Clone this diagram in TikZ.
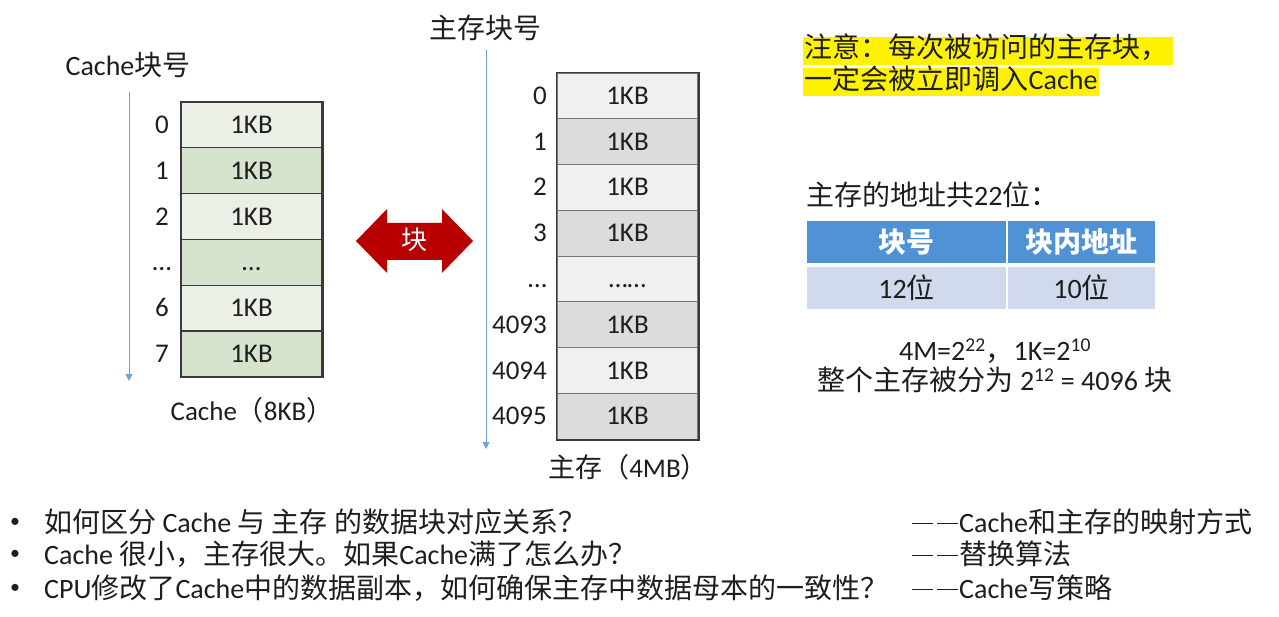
\documentclass[tikz,border=0pt]{standalone}
\usepackage{fontspec}
\setmainfont{Carlito}
\newfontfamily\cjkf{Noto Sans CJK SC}
\newcommand\zh[1]{{\cjkf #1}}
\newcommand\ddash{\rule[8.5pt]{21pt}{1.6pt}\kern4pt\rule[8.5pt]{21pt}{1.6pt}\kern1pt}
\usetikzlibrary{arrows.meta}
\definecolor{txt}{HTML}{1E1E1E}
\definecolor{cachelight}{HTML}{EAF0E6}
\definecolor{cachedark}{HTML}{D6E3CD}
\definecolor{memlight}{HTML}{F0F0F0}
\definecolor{memdark}{HTML}{DCDCDC}
\definecolor{axisblue}{HTML}{6FA3D6}
\definecolor{hdrblue}{HTML}{4F93D6}
\definecolor{rowblue}{HTML}{D0DAEC}
\definecolor{arrred}{HTML}{B80000}
\definecolor{cellborder}{HTML}{3A3A3A}
\tikzset{
  txtstyle/.style={text=txt, font=\fontsize{28}{34}\selectfont, inner sep=0pt},
  numstyle/.style={text=txt, font=\fontsize{27}{32}\selectfont, inner sep=0pt, text height=17pt, text depth=0pt},
  cachecell/.style={draw=cellborder, line width=1.2pt, minimum width=141pt, minimum height=45.8pt, inner sep=0pt, text=txt, font=\fontsize{27}{32}\selectfont, text height=17pt, text depth=0pt},
  memcell/.style={draw=cellborder!70, line width=1.2pt, minimum width=141pt, minimum height=45.75pt, inner sep=0pt, text=txt, font=\fontsize{27}{32}\selectfont, text height=17pt, text depth=0pt},
  axisline/.style={draw=axisblue, line width=1pt, -{Triangle[width=7pt,length=7pt]}},
  hdrcell/.style={fill=hdrblue, text=white, inner sep=0pt, font=\fontsize{28}{34}\selectfont\bfseries},
  rowcell/.style={fill=rowblue, text=txt, inner sep=0pt, font=\fontsize{28}{34}\selectfont},
  notebox/.style={fill=yellow, text=txt, inner xsep=1.5pt, inner ysep=0pt, text height=21pt, text depth=7pt, font=\fontsize{28}{34}\selectfont},
  bulletstyle/.style={text=txt, font=\fontsize{20}{24}\selectfont, inner sep=0pt}
}
\begin{document}
\begin{tikzpicture}[x=1pt,y=-1pt]
\useasboundingbox[fill=white] (0,0) rectangle (1279,617);

% ---------- Cache ----------
\node[txtstyle] (cachelbl) at (128,65) {Cache\zh{块号}};
\coordinate (ca1) at (129,92);
\coordinate (ca2) at (129,381);
\draw[axisline] (ca1) -- (ca2);
\foreach \i/\lab/\txt/\col [count=\k from 0] in {0/0/1KB/cachelight,1/1/1KB/cachedark,2/2/1KB/cachelight,3/…/…/cachedark,4/6/1KB/cachelight,5/7/1KB/cachedark}{
  \node[cachecell, fill=\col] (c\k) at (251.5,{125+45.8*\i}) {\txt};
  \node[numstyle] (cl\k) at (162,{125+45.8*\i}) {\lab};
}
\draw[cellborder, line width=1.8pt] (c0.north west) rectangle (c5.south east);
\node[txtstyle, font=\fontsize{27}{32}\selectfont] (cachecap) at (252,410) {Cache\zh{（}8KB\zh{）}};

% ---------- Main memory ----------
\node[txtstyle] (memlbl) at (485,28) {\zh{主存块号}};
\coordinate (ma1) at (486,50);
\coordinate (ma2) at (486,449);
\draw[axisline] (ma1) -- (ma2);
\foreach \i/\lab/\txt/\col in {0/0/1KB/memlight,1/1/1KB/memdark,2/2/1KB/memlight,3/3/1KB/memdark,4/…/……/memlight,5/4093/1KB/memdark,6/4094/1KB/memlight,7/4095/1KB/memdark}{
  \node[memcell, fill=\col] (m\i) at (627.5,{96+45.75*\i}) {\txt};
  \node[numstyle, anchor=east] (ml\i) at (547,{96+45.75*\i}) {\lab};
}
\draw[cellborder, line width=1.8pt] (m0.north west) rectangle (m7.south east);
\node[txtstyle, font=\fontsize{27}{32}\selectfont] (memcap) at (628,467) {\zh{主存（}4MB\zh{）}};

% ---------- Double arrow ----------
\fill[arrred] (356,241) -- (387,209) -- (387,223) -- (442,223) -- (442,209) -- (473,241)
  -- (442,273) -- (442,260) -- (387,260) -- (387,273) -- cycle;
\node[txtstyle, text=white, font=\fontsize{26}{30}\selectfont] (blk) at (414,240) {\zh{块}};

% ---------- Note ----------
\node[notebox, anchor=west, minimum width=370pt, align=left, text width=367pt] (note1) at (803,51) {\zh{注意：每次被访问的主存块，}};
\node[notebox, anchor=west] (note2) at (803,82.5) {\zh{一定会被立即调入}Cache};

% ---------- Address table ----------
\node[txtstyle, anchor=west] (addr) at (806,195) {\zh{主存的地址共}22\zh{位：}};
\node[hdrcell, minimum width=199pt, minimum height=42pt] (h1) at (906.5,242) {\zh{块号}};
\node[hdrcell, minimum width=147pt, minimum height=42pt] (h2) at (1081.5,242) {\zh{块内地址}};
\node[rowcell, minimum width=199pt, minimum height=42pt] (r1) at (906.5,288) {12\zh{位}};
\node[rowcell, minimum width=147pt, minimum height=42pt] (r2) at (1081.5,288) {10\zh{位}};

\node[txtstyle] (f1) at (995,351) {4M=2\textsuperscript{22}\zh{，}1K=2\textsuperscript{10}};
\node[txtstyle] (f2) at (995,380) {\zh{整个主存被分为} 2\textsuperscript{12} = 4096 \zh{块}};

% ---------- Bullets ----------
\node[bulletstyle] (b1) at (15,523) {•};
\node[bulletstyle] (b2) at (15,555) {•};
\node[bulletstyle] (b3) at (15,589) {•};
\node[txtstyle, anchor=west] (q1) at (44,522) {\zh{如何区分} Cache \zh{与 主存 的数据块对应关系？}};
\node[txtstyle, anchor=west] (q2) at (44,554) {Cache \zh{很小，主存很大。如果}Cache\zh{满了怎么办？}};
\node[txtstyle, anchor=west] (q3) at (44,588) {CPU\zh{修改了}Cache\zh{中的数据副本，如何确保主存中数据母本的一致性？}};
\node[txtstyle, anchor=west] (a1) at (912,522) {\ddash Cache\zh{和主存的映射方式}};
\node[txtstyle, anchor=west] (a2) at (912,554) {\ddash\zh{替换算法}};
\node[txtstyle, anchor=west] (a3) at (912,588) {\ddash Cache\zh{写策略}};
\end{tikzpicture}
\end{document}
